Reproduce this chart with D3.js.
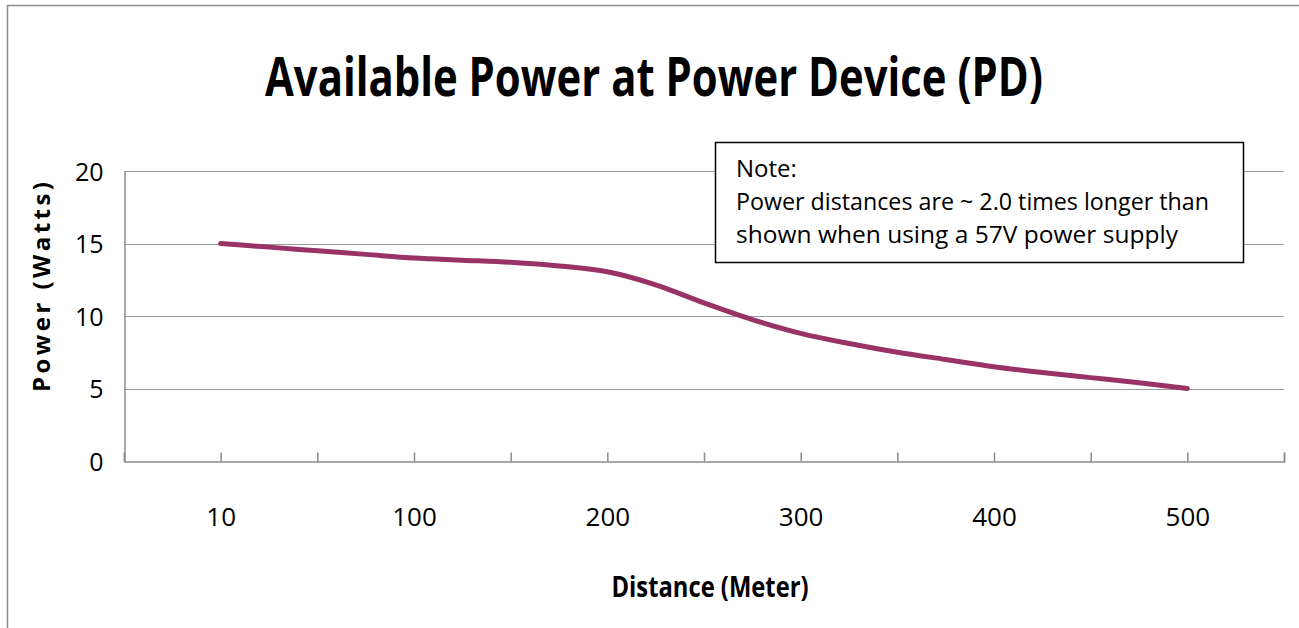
<!DOCTYPE html>
<html>
<head>
<meta charset="utf-8">
<script src="https://cdn.jsdelivr.net/npm/d3@7"></script>
<style>
  body { margin: 0; background: #fff; }
  text { font-family: "Liberation Sans Narrow", "Open Sans", sans-serif; fill: #000; }
</style>
</head>
<body>
<script>
// distances in meters, one point every 25 m (first one at 10 m)
const distances = [10, 25, 50, 75, 100, 125, 150, 175, 200, 225, 250, 275, 300, 325, 350, 375, 400, 425, 450, 475, 500];
const powerWatts = [15.0, 14.75, 14.5, 14.25, 14.0, 13.85, 13.7, 13.45, 13.05, 12.15, 10.9, 9.75, 8.8, 8.1, 7.5, 7.0, 6.5, 6.1, 5.75, 5.4, 5.0];
const xLabels = ["10", "100", "200", "300", "400", "500"];
const yTicks = [0, 5, 10, 15, 20];
const noteLines = ["Note:", "Power distances are ~ 2.0 times longer than", "shown when using a 57V power supply"];

const width = 1299, height = 628;
const plot = { left: 124, right: 1284, top: 171, bottom: 461 };

const svg = d3.select("body").append("svg")
    .attr("width", width)
    .attr("height", height);

// outer chart frame (only top and left edges are visible)
svg.append("path")
    .attr("d", `M7.5,${height} V5.5 H${width}`)
    .attr("fill", "none")
    .attr("stroke", "#8c8c8c")
    .attr("stroke-width", 1.5);

// index scale: two empty steps on each side of the data
const x = d3.scaleLinear()
    .domain([-2, distances.length + 1])
    .range([plot.left, plot.right]);

const y = d3.scaleLinear()
    .domain([0, 20])
    .range([plot.bottom, plot.top]);

// horizontal gridlines
svg.append("g")
    .selectAll("line")
    .data(yTicks.filter(d => d > 0))
    .join("line")
    .attr("x1", plot.left)
    .attr("x2", plot.right)
    .attr("y1", d => Math.round(y(d)) + 0.5)
    .attr("y2", d => Math.round(y(d)) + 0.5)
    .attr("stroke", "#9a9a9a")
    .attr("stroke-width", 1);

// y axis
const yAxis = svg.append("g")
    .attr("transform", `translate(${plot.left + 0.5},0)`)
    .call(d3.axisLeft(y).tickValues(yTicks).tickSize(0).tickPadding(21));
yAxis.select(".domain").attr("stroke", "#8c8c8c").attr("stroke-width", 1.5);
yAxis.selectAll("text")
    .style("font-size", "25px")
    .attr("dy", "0.36em");

// x axis: ticks every other point, labels every fourth point
const tickIdx = d3.range(-2, distances.length + 2, 2);
const labelIdx = distances.map((d, i) => i).filter(i => xLabels.includes(String(distances[i])));
const xAxis = svg.append("g")
    .attr("transform", `translate(0,${plot.bottom + 0.5})`)
    .call(d3.axisBottom(x).tickValues(tickIdx).tickSize(-9).tickPadding(46)
        .tickFormat(i => labelIdx.includes(i) ? String(distances[i]) : ""));
xAxis.select(".domain").attr("stroke", "#8c8c8c").attr("stroke-width", 1.5);
xAxis.selectAll(".tick line").attr("stroke", "#8c8c8c").attr("stroke-width", 1.5);
xAxis.selectAll("text").style("font-size", "26px");

// the data line
const line = d3.line()
    .x((d, i) => x(i))
    .y(d => y(d))
    .curve(d3.curveMonotoneX);

svg.append("path")
    .datum(powerWatts)
    .attr("d", line)
    .attr("fill", "none")
    .attr("stroke", "#993366")
    .attr("stroke-width", 5)
    .attr("stroke-linecap", "round")
    .attr("stroke-linejoin", "round");

// title
svg.append("text")
    .attr("x", 654)
    .attr("y", 96)
    .attr("text-anchor", "middle")
    .attr("textLength", 778)
    .attr("lengthAdjust", "spacingAndGlyphs")
    .style("font-size", "54px")
    .style("font-weight", "bold")
    .text("Available Power at Power Device (PD)");

// axis titles
svg.append("text")
    .attr("x", 710)
    .attr("y", 597)
    .attr("text-anchor", "middle")
    .attr("textLength", 197)
    .attr("lengthAdjust", "spacingAndGlyphs")
    .style("font-size", "29px")
    .style("font-weight", "bold")
    .text("Distance (Meter)");

svg.append("text")
    .attr("transform", "translate(50,287) rotate(-90)")
    .attr("text-anchor", "middle")
    .attr("textLength", 210)
    .attr("lengthAdjust", "spacing")
    .style("font-size", "24px")
    .style("font-weight", "bold")
    .text("Power (Watts)");

// note box
const note = svg.append("g");
note.append("rect")
    .attr("x", 715.5)
    .attr("y", 142.5)
    .attr("width", 528)
    .attr("height", 120)
    .attr("fill", "#fff")
    .attr("stroke", "#000")
    .attr("stroke-width", 1.5);

const noteWidths = [null, 473, 442];
note.selectAll("text")
    .data(noteLines)
    .join("text")
    .attr("x", 736)
    .attr("y", (d, i) => 177 + i * 33)
    .attr("textLength", (d, i) => noteWidths[i])
    .attr("lengthAdjust", "spacingAndGlyphs")
    .style("font-size", "24px")
    .text(d => d);
</script>
</body>
</html>
